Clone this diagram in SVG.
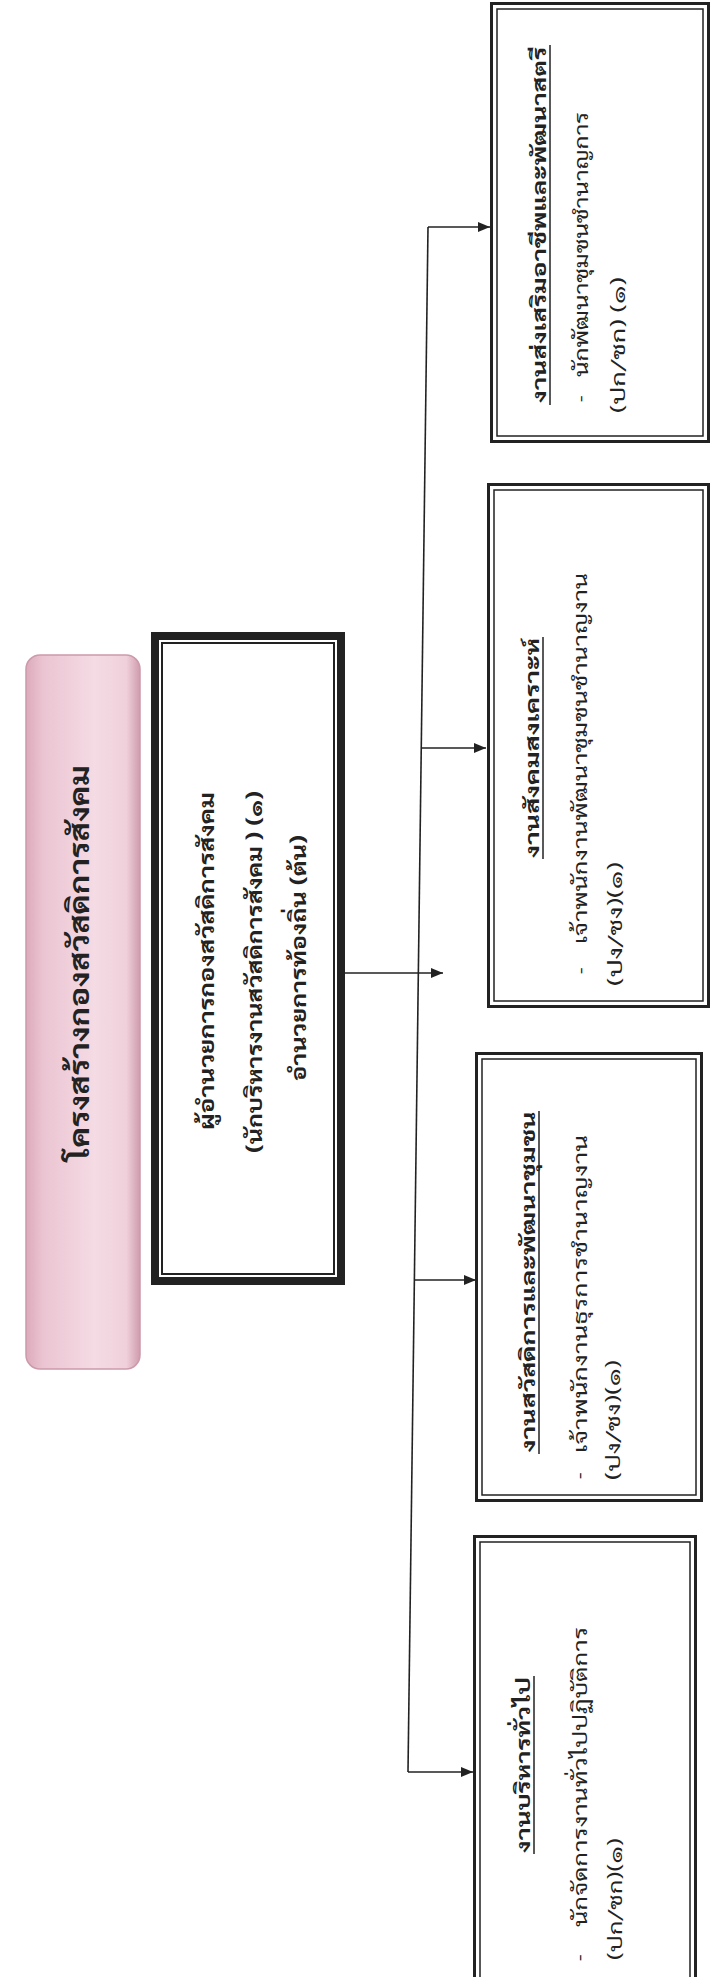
<svg xmlns="http://www.w3.org/2000/svg" width="711" height="1977" viewBox="0 0 711 1977">
<defs>
<linearGradient id="pink" x1="0" y1="0" x2="1" y2="0">
<stop offset="0" stop-color="#dcaabb"/>
<stop offset="0.15" stop-color="#ebc4d2"/>
<stop offset="0.6" stop-color="#f4dbe4"/>
<stop offset="0.88" stop-color="#efd0db"/>
<stop offset="1" stop-color="#cf9bad"/>
</linearGradient>
<marker id="ah" viewBox="0 0 12 10" refX="12" refY="5" markerWidth="12" markerHeight="10" markerUnits="userSpaceOnUse" orient="auto">
<path d="M0,0 L12,5 L0,10 Z" fill="#222"/>
</marker>
<style>
.th{font-family:"TH Sarabun New","Sarabun","Noto Sans Thai Looped","Noto Serif Thai","Loma","Garuda","Noto Sans Thai","Noto Sans","DejaVu Sans",sans-serif;fill:#222;}
.ttl{font-size:27px;font-weight:bold;}
.mn{font-size:21px;font-weight:bold;}
.hd{font-size:19px;font-weight:bold;}
.tx{font-size:19px;}
.ob{fill:none;stroke:#222;stroke-width:3;}
.ib{fill:none;stroke:#222;stroke-width:1.5;}
.ul{stroke:#222;stroke-width:1.5;}
.cn{fill:none;stroke:#222;stroke-width:1.6;}
</style>
</defs>
<rect width="711" height="1977" fill="#ffffff"/>

<g id="title">
<rect x="26" y="655" width="114" height="714" rx="14" fill="url(#pink)" stroke="#cc9aab" stroke-width="1.5"/>
<text class="th ttl" x="89" y="963" text-anchor="middle" textLength="396" lengthAdjust="spacingAndGlyphs" transform="rotate(-90 89 963)">โครงสร้างกองสวัสดิการสังคม</text>
</g>

<g id="director">
<rect x="155" y="636" width="186" height="645" fill="#fff" stroke="#222" stroke-width="8"/>
<rect x="162" y="643" width="172" height="631" fill="none" stroke="#222" stroke-width="2"/>
<text class="th mn" x="214" y="961" text-anchor="middle" textLength="338" lengthAdjust="spacingAndGlyphs" transform="rotate(-90 214 961)">ผู้อำนวยการกองสวัสดิการสังคม</text>
<text class="th mn" x="262" y="972" text-anchor="middle" textLength="362" lengthAdjust="spacingAndGlyphs" transform="rotate(-90 262 972)">(นักบริหารงานสวัสดิการสังคม ) (๑)</text>
<text class="th mn" x="306" y="958" text-anchor="middle" textLength="246" lengthAdjust="spacingAndGlyphs" transform="rotate(-90 306 958)">อำนวยการท้องถิ่น (ต้น)</text>
</g>

<g id="women">
<rect class="ob" x="491.5" y="3.5" width="217" height="438"/>
<rect class="ib" x="497" y="9" width="206" height="427"/>
<text class="th hd" x="546" y="225" text-anchor="middle" textLength="356" lengthAdjust="spacingAndGlyphs" transform="rotate(-90 546 225)">งานส่งเสริมอาชีพและพัฒนาสตรี</text>
<line class="ul" x1="550" y1="405" x2="550" y2="45"/>
<text class="th tx" x="587" y="402" transform="rotate(-90 587 402)">-</text>
<text class="th tx" x="588" y="377" textLength="265" lengthAdjust="spacingAndGlyphs" transform="rotate(-90 588 377)">นักพัฒนาชุมชนชำนาญการ</text>
<text class="th tx" x="625" y="413" textLength="136" lengthAdjust="spacingAndGlyphs" transform="rotate(-90 625 413)">(ปก/ชก) (๑)</text>
</g>

<g id="social">
<rect class="ob" x="488.5" y="484.5" width="220" height="522"/>
<rect class="ib" x="494" y="490" width="209" height="511"/>
<text class="th hd" x="539" y="748" text-anchor="middle" textLength="220" lengthAdjust="spacingAndGlyphs" transform="rotate(-90 539 748)">งานสังคมสงเคราะห์</text>
<line class="ul" x1="543" y1="859" x2="543" y2="637"/>
<text class="th tx" x="587" y="974" transform="rotate(-90 587 974)">-</text>
<text class="th tx" x="587" y="944" textLength="371" lengthAdjust="spacingAndGlyphs" transform="rotate(-90 587 944)">เจ้าพนักงานพัฒนาชุมชนชำนาญงาน</text>
<text class="th tx" x="622" y="986" textLength="124" lengthAdjust="spacingAndGlyphs" transform="rotate(-90 622 986)">(ปง/ชง)(๑)</text>
</g>

<g id="welfare">
<rect class="ob" x="476.5" y="1053.5" width="225" height="447"/>
<rect class="ib" x="482" y="1059" width="214" height="436"/>
<text class="th hd" x="535" y="1282" text-anchor="middle" textLength="341" lengthAdjust="spacingAndGlyphs" transform="rotate(-90 535 1282)">งานสวัสดิการและพัฒนาชุมชน</text>
<line class="ul" x1="539" y1="1454" x2="539" y2="1111"/>
<text class="th tx" x="586" y="1479" transform="rotate(-90 586 1479)">-</text>
<text class="th tx" x="587" y="1453" textLength="318" lengthAdjust="spacingAndGlyphs" transform="rotate(-90 587 1453)">เจ้าพนักงานธุรการชำนาญงาน</text>
<text class="th tx" x="620" y="1480" textLength="120" lengthAdjust="spacingAndGlyphs" transform="rotate(-90 620 1480)">(ปง/ชง)(๑)</text>
</g>

<g id="admin">
<rect class="ob" x="474.5" y="1536.5" width="221" height="460"/>
<rect class="ib" x="480" y="1542" width="210" height="449"/>
<text class="th hd" x="530" y="1765" text-anchor="middle" textLength="176" lengthAdjust="spacingAndGlyphs" transform="rotate(-90 530 1765)">งานบริหารทั่วไป</text>
<line class="ul" x1="534" y1="1854" x2="534" y2="1676"/>
<text class="th tx" x="586" y="1961" transform="rotate(-90 586 1961)">-</text>
<text class="th tx" x="587" y="1927" textLength="300" lengthAdjust="spacingAndGlyphs" transform="rotate(-90 587 1927)">นักจัดการงานทั่วไปปฏิบัติการ</text>
<text class="th tx" x="622" y="1960" textLength="122" lengthAdjust="spacingAndGlyphs" transform="rotate(-90 622 1960)">(ปก/ชก)(๑)</text>
</g>

<g id="connectors">
<line class="cn" x1="428" y1="227" x2="408" y2="1772"/>
<line class="cn" x1="428" y1="227" x2="490" y2="227" marker-end="url(#ah)"/>
<line class="cn" x1="421.3" y1="748" x2="486" y2="748" marker-end="url(#ah)"/>
<line class="cn" x1="345" y1="973" x2="443" y2="973" marker-end="url(#ah)"/>
<line class="cn" x1="414.4" y1="1280" x2="476" y2="1280" marker-end="url(#ah)"/>
<line class="cn" x1="408" y1="1772" x2="473" y2="1772" marker-end="url(#ah)"/>
</g>
</svg>
